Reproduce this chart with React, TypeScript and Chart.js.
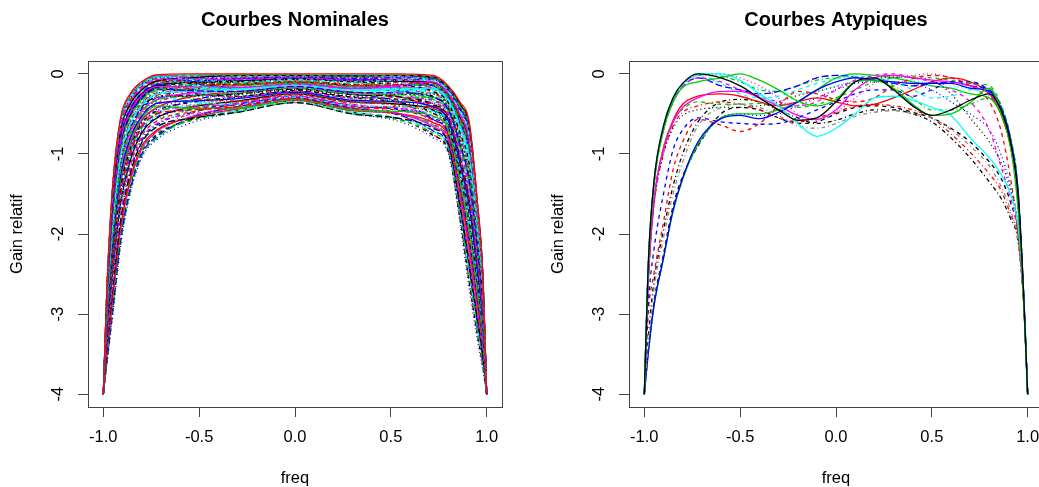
import { useEffect, useRef } from "react";
import { Chart, registerables } from "chart.js";
Chart.register(...registerables);

// ---------- data ----------
const X_TICKS = [-1, -0.5, 0, 0.5, 1];
const Y_TICKS = [0, -1, -2, -3, -4];

const FREQ_NOM = [-1, -0.98, -0.95, -0.91, -0.86, -0.8, -0.72, -0.55, -0.3, 0, 0.3, 0.55, 0.72, 0.8, 0.86, 0.91, 0.95, 0.98, 1];

const N01 = [-4,-2.6,-1.35,-0.55,-0.25,-0.1,-0.01,0,0,0,0,0,-0.02,-0.15,-0.35,-0.62,-1.55,-2.5,-4];
const N02 = [-4,-2.62,-1.38,-0.58,-0.28,-0.12,-0.03,-0.02,-0.02,-0.02,-0.03,-0.02,-0.04,-0.18,-0.4,-0.68,-1.6,-2.54,-4];
const N03 = [-4,-2.65,-1.43,-0.63,-0.31,-0.15,-0.05,-0.05,-0.05,-0.04,-0.05,-0.04,-0.05,-0.18,-0.41,-0.7,-1.62,-2.55,-4];
const N04 = [-4,-2.63,-1.4,-0.6,-0.29,-0.13,-0.03,-0.07,-0.1,-0.07,-0.1,-0.08,-0.08,-0.22,-0.47,-0.79,-1.69,-2.6,-4];
const N05 = [-4,-2.68,-1.48,-0.68,-0.35,-0.18,-0.07,-0.07,-0.07,-0.05,-0.08,-0.08,-0.1,-0.24,-0.5,-0.83,-1.73,-2.62,-4];
const N06 = [-4,-2.7,-1.52,-0.71,-0.38,-0.2,-0.09,-0.05,-0.02,-0.02,-0.03,-0.02,-0.04,-0.17,-0.38,-0.66,-1.59,-2.52,-4];
const N07 = [-4,-2.66,-1.45,-0.65,-0.33,-0.16,-0.06,-0.11,-0.14,-0.11,-0.15,-0.13,-0.11,-0.25,-0.53,-0.87,-1.76,-2.64,-4];
const N08 = [-4,-2.72,-1.55,-0.74,-0.4,-0.21,-0.11,-0.11,-0.12,-0.09,-0.13,-0.12,-0.14,-0.28,-0.58,-0.93,-1.81,-2.68,-4];
const N09 = [-4,-2.75,-1.6,-0.79,-0.44,-0.24,-0.13,-0.08,-0.06,-0.04,-0.06,-0.05,-0.07,-0.2,-0.44,-0.75,-1.66,-2.57,-4];
const N10 = [-4,-2.64,-1.42,-0.61,-0.3,-0.14,-0.04,-0.14,-0.19,-0.14,-0.2,-0.18,-0.18,-0.32,-0.65,-1.04,-1.9,-2.74,-4];
const N11 = [-4,-2.78,-1.65,-0.84,-0.48,-0.27,-0.16,-0.16,-0.17,-0.13,-0.18,-0.14,-0.1,-0.24,-0.5,-0.83,-1.73,-2.62,-4];
const N12 = [-4,-2.8,-1.68,-0.87,-0.5,-0.29,-0.17,-0.12,-0.1,-0.07,-0.1,-0.14,-0.22,-0.36,-0.73,-1.14,-1.99,-2.8,-4];
const N13 = [-4,-2.7,-1.52,-0.71,-0.38,-0.2,-0.09,-0.19,-0.24,-0.18,-0.25,-0.24,-0.25,-0.41,-0.8,-1.24,-2.08,-2.86,-4];
const N14 = [-4,-2.85,-1.76,-0.95,-0.56,-0.34,-0.21,-0.17,-0.14,-0.11,-0.15,-0.14,-0.16,-0.3,-0.62,-0.99,-1.87,-2.72,-4];
const N15 = [-4,-2.82,-1.71,-0.9,-0.53,-0.31,-0.19,-0.21,-0.22,-0.16,-0.23,-0.24,-0.29,-0.45,-0.88,-1.35,-2.16,-2.92,-4];
const N16 = [-4,-2.9,-1.85,-1.03,-0.63,-0.39,-0.25,-0.22,-0.19,-0.14,-0.2,-0.19,-0.19,-0.34,-0.68,-1.08,-1.94,-2.76,-4];
const N17 = [-4,-2.74,-1.58,-0.77,-0.43,-0.23,-0.12,-0.23,-0.29,-0.22,-0.3,-0.3,-0.33,-0.49,-0.95,-1.45,-2.25,-2.98,-4];
const N18 = [-4,-2.95,-1.93,-1.11,-0.69,-0.43,-0.29,-0.28,-0.26,-0.2,-0.28,-0.26,-0.25,-0.41,-0.8,-1.24,-2.08,-2.86,-4];
const N19 = [-4,-2.88,-1.81,-1.0,-0.6,-0.37,-0.24,-0.3,-0.34,-0.25,-0.35,-0.35,-0.37,-0.53,-1.03,-1.56,-2.34,-3.04,-4];
const N20 = [-4,-3.0,-2.01,-1.19,-0.75,-0.48,-0.33,-0.28,-0.24,-0.18,-0.25,-0.26,-0.32,-0.47,-0.92,-1.41,-2.22,-2.96,-4];
const N21 = [-4,-3.05,-2.09,-1.27,-0.81,-0.53,-0.37,-0.34,-0.31,-0.23,-0.33,-0.35,-0.41,-0.58,-1.1,-1.66,-2.43,-3.1,-4];
const N22 = [-4,-2.93,-1.89,-1.08,-0.66,-0.41,-0.28,-0.35,-0.38,-0.29,-0.4,-0.41,-0.45,-0.62,-1.18,-1.76,-2.51,-3.16,-4];
const N23 = [-4,-3.1,-2.18,-1.35,-0.88,-0.58,-0.42,-0.39,-0.36,-0.27,-0.38,-0.35,-0.35,-0.51,-0.98,-1.49,-2.29,-3.0,-4];
const N24 = [-4,-3.15,-2.26,-1.43,-0.94,-0.62,-0.46,-0.36,-0.29,-0.22,-0.3,-0.36,-0.49,-0.66,-1.25,-1.87,-2.6,-3.22,-4];
const N25 = [-4,-3.2,-2.34,-1.51,-1.0,-0.67,-0.5,-0.45,-0.41,-0.31,-0.43,-0.41,-0.41,-0.58,-1.1,-1.66,-2.43,-3.1,-4];
const N26 = [-4,-3.08,-2.14,-1.32,-0.85,-0.56,-0.4,-0.43,-0.43,-0.32,-0.45,-0.47,-0.53,-0.7,-1.33,-1.97,-2.69,-3.28,-4];
const N27 = [-4,-3.25,-2.42,-1.59,-1.06,-0.72,-0.54,-0.45,-0.38,-0.29,-0.4,-0.45,-0.57,-0.75,-1.4,-2.08,-2.78,-3.34,-4];
const N28 = [-4,-3.3,-2.51,-1.67,-1.13,-0.77,-0.58,-0.51,-0.46,-0.34,-0.48,-0.47,-0.49,-0.66,-1.25,-1.87,-2.6,-3.22,-4];
const N29 = [-4,-3.35,-2.59,-1.75,-1.19,-0.81,-0.62,-0.51,-0.43,-0.32,-0.45,-0.5,-0.63,-0.81,-1.52,-2.24,-2.92,-3.44,-4];
const N30 = [-4,-3.4,-2.67,-1.83,-1.25,-0.86,-0.66,-0.56,-0.48,-0.36,-0.5,-0.56,-0.68,-0.87,-1.63,-2.39,-3.04,-3.52,-4];
const N31 = [-4,-3.45,-2.75,-1.91,-1.31,-0.91,-0.7,-0.55,-0.44,-0.33,-0.46,-0.5,-0.61,-0.79,-1.48,-2.18,-2.86,-3.4,-4];
const N32 = [-4,-3.5,-2.84,-1.99,-1.38,-0.96,-0.74,-0.59,-0.48,-0.36,-0.5,-0.58,-0.74,-0.93,-1.73,-2.53,-3.16,-3.6,-4];
const N33 = [-4,-3.6,-3.0,-2.15,-1.5,-1.05,-0.82,-0.62,-0.48,-0.36,-0.5,-0.6,-0.8,-1.0,-1.85,-2.7,-3.3,-3.7,-4];
const N34 = [-4,-2.67,-1.47,-0.66,-0.34,-0.17,-0.07,-0.05,-0.04,-0.03,-0.04,-0.05,-0.07,-0.21,-0.46,-0.77,-1.67,-2.58,-4];
const N35 = [-4,-2.61,-1.37,-0.57,-0.26,-0.11,-0.02,-0.04,-0.06,-0.04,-0.06,-0.04,-0.03,-0.16,-0.37,-0.64,-1.57,-2.51,-4];
const N36 = [-4,-2.76,-1.61,-0.81,-0.45,-0.25,-0.14,-0.11,-0.09,-0.06,-0.09,-0.09,-0.11,-0.25,-0.53,-0.87,-1.76,-2.64,-4];
const N37 = [-4,-2.69,-1.5,-0.69,-0.36,-0.19,-0.08,-0.11,-0.13,-0.1,-0.14,-0.1,-0.06,-0.19,-0.43,-0.72,-1.64,-2.56,-4];
const N38 = [-4,-2.84,-1.75,-0.93,-0.55,-0.33,-0.2,-0.14,-0.11,-0.08,-0.11,-0.16,-0.25,-0.41,-0.8,-1.24,-2.08,-2.86,-4];
const N39 = [-4,-2.62,-1.38,-0.58,-0.28,-0.12,-0.03,-0.11,-0.17,-0.13,-0.18,-0.15,-0.14,-0.29,-0.59,-0.95,-1.83,-2.69,-4];
const N40 = [-4,-2.73,-1.56,-0.76,-0.41,-0.22,-0.12,-0.17,-0.2,-0.15,-0.21,-0.21,-0.24,-0.39,-0.77,-1.2,-2.04,-2.84,-4];
const N41 = [-4,-2.98,-1.98,-1.16,-0.73,-0.46,-0.32,-0.24,-0.18,-0.14,-0.19,-0.17,-0.18,-0.32,-0.65,-1.04,-1.9,-2.74,-4];
const N42 = [-4,-2.8,-1.68,-0.87,-0.5,-0.29,-0.17,-0.24,-0.28,-0.21,-0.29,-0.32,-0.39,-0.56,-1.07,-1.62,-2.39,-3.08,-4];
const N43 = [-4,-3.02,-2.04,-1.22,-0.78,-0.5,-0.35,-0.35,-0.34,-0.25,-0.35,-0.4,-0.5,-0.68,-1.28,-1.91,-2.64,-3.24,-4];
const N44 = [-4,-3.18,-2.31,-1.48,-0.98,-0.65,-0.48,-0.4,-0.35,-0.26,-0.36,-0.32,-0.29,-0.45,-0.88,-1.35,-2.16,-2.92,-4];
const N45 = [-4,-3.55,-2.92,-2.07,-1.44,-1.0,-0.78,-0.56,-0.41,-0.31,-0.43,-0.52,-0.71,-0.9,-1.67,-2.45,-3.09,-3.56,-4];
const N46 = [-4,-2.65,-1.43,-0.63,-0.31,-0.15,-0.05,-0.02,-0.01,-0.01,-0.01,-0.04,-0.1,-0.24,-0.5,-0.83,-1.73,-2.62,-4];
const N47 = [-4,-2.71,-1.53,-0.73,-0.39,-0.2,-0.1,-0.06,-0.03,-0.03,-0.04,-0.08,-0.18,-0.32,-0.65,-1.04,-1.9,-2.74,-4];
const N48 = [-4,-2.9,-1.85,-1.03,-0.63,-0.39,-0.25,-0.14,-0.07,-0.05,-0.08,-0.07,-0.08,-0.22,-0.47,-0.79,-1.69,-2.6,-4];
const N49 = [-4,-2.64,-1.42,-0.61,-0.3,-0.14,-0.04,-0.03,-0.03,-0.02,-0.03,-0.06,-0.14,-0.28,-0.58,-0.93,-1.81,-2.68,-4];
const N50 = [-4,-2.73,-1.56,-0.76,-0.41,-0.22,-0.12,-0.07,-0.05,-0.04,-0.05,-0.04,-0.05,-0.18,-0.41,-0.7,-1.62,-2.55,-4];
const N51 = [-4,-2.79,-1.66,-0.85,-0.49,-0.28,-0.16,-0.1,-0.06,-0.05,-0.07,-0.09,-0.15,-0.29,-0.61,-0.97,-1.85,-2.7,-4];
const N52 = [-4,-2.68,-1.48,-0.68,-0.35,-0.18,-0.07,-0.09,-0.11,-0.08,-0.11,-0.14,-0.22,-0.37,-0.74,-1.16,-2.0,-2.81,-4];
const N53 = [-4,-2.86,-1.78,-0.97,-0.58,-0.35,-0.22,-0.13,-0.08,-0.06,-0.08,-0.08,-0.1,-0.24,-0.5,-0.83,-1.73,-2.62,-4];
const N54 = [-4,-2.77,-1.63,-0.82,-0.46,-0.26,-0.15,-0.14,-0.13,-0.1,-0.14,-0.18,-0.28,-0.43,-0.85,-1.31,-2.13,-2.9,-4];
const N55 = [-4,-2.92,-1.88,-1.06,-0.65,-0.4,-0.27,-0.18,-0.12,-0.09,-0.13,-0.16,-0.23,-0.38,-0.76,-1.18,-2.02,-2.82,-4];
const N56 = [-4,-2.81,-1.7,-0.89,-0.51,-0.3,-0.18,-0.16,-0.15,-0.12,-0.16,-0.14,-0.13,-0.27,-0.56,-0.91,-1.8,-2.67,-4];
const N57 = [-4,-2.96,-1.94,-1.13,-0.7,-0.44,-0.3,-0.2,-0.14,-0.11,-0.15,-0.21,-0.33,-0.49,-0.95,-1.45,-2.25,-2.98,-4];
const N58 = [-4,-2.87,-1.8,-0.98,-0.59,-0.36,-0.23,-0.23,-0.23,-0.17,-0.24,-0.22,-0.21,-0.35,-0.71,-1.12,-1.97,-2.79,-4];
const N59 = [-4,-3.03,-2.06,-1.24,-0.79,-0.51,-0.36,-0.26,-0.19,-0.14,-0.2,-0.21,-0.25,-0.41,-0.8,-1.24,-2.08,-2.86,-4];
const N60 = [-4,-2.94,-1.91,-1.09,-0.68,-0.42,-0.29,-0.27,-0.25,-0.19,-0.26,-0.29,-0.38,-0.54,-1.04,-1.58,-2.36,-3.05,-4];
const N61 = [-4,-3.1,-2.18,-1.35,-0.88,-0.58,-0.42,-0.29,-0.22,-0.16,-0.23,-0.29,-0.43,-0.59,-1.13,-1.7,-2.46,-3.12,-4];
const N62 = [-4,-3.06,-2.11,-1.29,-0.83,-0.54,-0.38,-0.33,-0.29,-0.22,-0.3,-0.29,-0.3,-0.46,-0.89,-1.37,-2.18,-2.93,-4];
const N63 = [-4,-3.13,-2.22,-1.4,-0.91,-0.6,-0.44,-0.33,-0.26,-0.2,-0.28,-0.34,-0.47,-0.64,-1.22,-1.83,-2.57,-3.2,-4];
const N64 = [-4,-3.22,-2.37,-1.54,-1.03,-0.69,-0.51,-0.39,-0.31,-0.23,-0.33,-0.33,-0.36,-0.52,-1.01,-1.54,-2.32,-3.03,-4];
const N65 = [-4,-3.17,-2.29,-1.46,-0.96,-0.64,-0.47,-0.42,-0.37,-0.28,-0.39,-0.43,-0.53,-0.71,-1.34,-1.99,-2.71,-3.29,-4];
const N66 = [-4,-3.27,-2.46,-1.62,-1.09,-0.74,-0.55,-0.42,-0.34,-0.25,-0.35,-0.38,-0.45,-0.62,-1.18,-1.76,-2.51,-3.16,-4];
const N67 = [-4,-3.32,-2.54,-1.7,-1.15,-0.78,-0.59,-0.48,-0.39,-0.3,-0.41,-0.46,-0.58,-0.76,-1.43,-2.12,-2.81,-3.36,-4];
const N68 = [-4,-3.23,-2.39,-1.56,-1.04,-0.7,-0.52,-0.47,-0.42,-0.32,-0.44,-0.5,-0.64,-0.83,-1.55,-2.28,-2.95,-3.46,-4];
const N69 = [-4,-3.38,-2.64,-1.8,-1.23,-0.84,-0.64,-0.49,-0.38,-0.29,-0.4,-0.44,-0.55,-0.73,-1.37,-2.03,-2.74,-3.32,-4];
const N70 = [-4,-3.42,-2.7,-1.86,-1.28,-0.88,-0.67,-0.55,-0.46,-0.34,-0.48,-0.56,-0.72,-0.92,-1.7,-2.49,-3.13,-3.58,-4];
const N71 = [-4,-3.48,-2.8,-1.96,-1.35,-0.94,-0.72,-0.54,-0.41,-0.31,-0.43,-0.5,-0.66,-0.85,-1.58,-2.33,-2.99,-3.48,-4];
const N72 = [-4,-3.53,-2.88,-2.04,-1.41,-0.98,-0.76,-0.58,-0.46,-0.34,-0.48,-0.57,-0.77,-0.97,-1.79,-2.62,-3.23,-3.65,-4];
const N73 = [-4,-3.3,-2.51,-1.67,-1.13,-0.77,-0.58,-0.41,-0.3,-0.22,-0.31,-0.41,-0.6,-0.78,-1.46,-2.16,-2.85,-3.39,-4];
const N74 = [-4,-3.36,-2.6,-1.77,-1.2,-0.82,-0.63,-0.45,-0.34,-0.25,-0.35,-0.4,-0.5,-0.68,-1.28,-1.91,-2.64,-3.24,-4];
const N75 = [-4,-3.2,-2.34,-1.51,-1.0,-0.67,-0.5,-0.34,-0.24,-0.18,-0.25,-0.36,-0.57,-0.75,-1.4,-2.08,-2.78,-3.34,-4];
const N76 = [-4,-3.12,-2.21,-1.38,-0.9,-0.59,-0.43,-0.28,-0.18,-0.14,-0.19,-0.28,-0.46,-0.63,-1.19,-1.79,-2.53,-3.17,-4];
const N77 = [-4,-3.04,-2.08,-1.25,-0.8,-0.52,-0.37,-0.23,-0.14,-0.11,-0.15,-0.24,-0.41,-0.58,-1.1,-1.66,-2.43,-3.1,-4];
const N78 = [-4,-3.0,-2.01,-1.19,-0.75,-0.48,-0.33,-0.19,-0.1,-0.07,-0.1,-0.2,-0.37,-0.53,-1.03,-1.56,-2.34,-3.04,-4];
const N79 = [-4,-3.46,-2.77,-1.93,-1.33,-0.92,-0.71,-0.5,-0.36,-0.27,-0.38,-0.51,-0.76,-0.96,-1.78,-2.6,-3.21,-3.64,-4];
const N80 = [-4,-3.58,-2.97,-2.12,-1.48,-1.03,-0.8,-0.58,-0.43,-0.32,-0.45,-0.51,-0.64,-0.83,-1.55,-2.28,-2.95,-3.46,-4];
const N81 = [-4,-2.63,-1.4,-0.6,-0.29,-0.13,-0.03,-0.02,-0.01,-0.01,-0.02,-0.02,-0.06,-0.19,-0.43,-0.72,-1.64,-2.56,-4];
const N82 = [-4,-2.66,-1.45,-0.65,-0.33,-0.16,-0.06,-0.03,-0.02,-0.01,-0.02,-0.02,-0.03,-0.16,-0.37,-0.64,-1.57,-2.51,-4];
const N83 = [-4,-2.61,-1.37,-0.57,-0.26,-0.11,-0.02,-0.03,-0.04,-0.03,-0.05,-0.05,-0.09,-0.23,-0.49,-0.81,-1.71,-2.61,-4];
const N84 = [-4,-2.7,-1.52,-0.71,-0.38,-0.2,-0.09,-0.08,-0.08,-0.06,-0.08,-0.07,-0.07,-0.21,-0.46,-0.77,-1.67,-2.58,-4];
const N85 = [-4,-2.75,-1.6,-0.79,-0.44,-0.24,-0.13,-0.07,-0.04,-0.03,-0.04,-0.09,-0.19,-0.34,-0.68,-1.08,-1.94,-2.76,-4];
const N86 = [-4,-2.83,-1.73,-0.92,-0.54,-0.32,-0.2,-0.19,-0.18,-0.14,-0.19,-0.22,-0.29,-0.44,-0.86,-1.33,-2.15,-2.91,-4];
const N87 = [-4,-2.89,-1.83,-1.01,-0.61,-0.38,-0.24,-0.15,-0.1,-0.07,-0.1,-0.1,-0.12,-0.26,-0.55,-0.89,-1.78,-2.66,-4];
const N88 = [-4,-2.97,-1.96,-1.14,-0.71,-0.45,-0.31,-0.26,-0.22,-0.17,-0.23,-0.26,-0.35,-0.51,-0.98,-1.49,-2.29,-3.0,-4];

const NOMINAL = [
  N01,N02,N03,N04,N05,N06,N07,N08,N09,N10,N11,N12,N13,N14,N15,N16,N17,N18,N19,N20,N21,N22,
  N23,N24,N25,N26,N27,N28,N29,N30,N31,N32,N33,N34,N35,N36,N37,N38,N39,N40,N41,N42,N43,N44,
  N45,N46,N47,N48,N49,N50,N51,N52,N53,N54,N55,N56,N57,N58,N59,N60,N61,N62,N63,N64,N65,N66,
  N67,N68,N69,N70,N71,N72,N73,N74,N75,N76,N77,N78,N79,N80,N81,N82,N83,N84,N85,N86,N87,N88,
];

const FREQ_ATY = [-1, -0.98, -0.95, -0.9, -0.85, -0.8, -0.72, -0.6, -0.5, -0.4, -0.3, -0.2, -0.1, 0, 0.1, 0.2, 0.3, 0.4, 0.5, 0.6, 0.7, 0.8, 0.86, 0.91, 0.95, 0.98, 1];

const A01 = [-4,-2.4,-1.35,-0.65,-0.3,-0.12,0,-0.05,-0.15,-0.3,-0.45,-0.58,-0.55,-0.35,-0.1,-0.05,-0.2,-0.4,-0.52,-0.45,-0.33,-0.25,-0.45,-0.85,-1.5,-2.8,-4];
const A02 = [-4,-2.45,-1.4,-0.7,-0.35,-0.17,-0.1,-0.05,0,-0.08,-0.2,-0.34,-0.4,-0.32,-0.1,-0.08,-0.18,-0.38,-0.52,-0.5,-0.36,-0.18,-0.45,-0.9,-1.7,-2.9,-4];
const A03 = [-4,-2.4,-1.35,-0.65,-0.3,-0.12,0,0,-0.08,-0.25,-0.4,-0.62,-0.78,-0.68,-0.5,-0.3,-0.28,-0.33,-0.42,-0.52,-0.8,-1.05,-1.25,-1.5,-1.9,-2.8,-4];
const A04 = [-4,-3.4,-2.7,-2.05,-1.5,-1.1,-0.65,-0.42,-0.38,-0.42,-0.52,-0.65,-0.68,-0.62,-0.53,-0.48,-0.46,-0.5,-0.55,-0.7,-0.9,-1.15,-1.4,-1.7,-2.1,-2.9,-4];
const A05 = [-4,-3.5,-2.9,-2.3,-1.7,-1.3,-0.85,-0.56,-0.52,-0.56,-0.48,-0.35,-0.2,-0.1,-0.05,-0.08,-0.1,-0.12,-0.12,-0.12,-0.18,-0.22,-0.42,-0.82,-1.5,-2.8,-4];
const A06 = [-4,-2.9,-2.2,-1.5,-0.95,-0.7,-0.55,-0.6,-0.62,-0.63,-0.62,-0.55,-0.45,-0.35,-0.25,-0.2,-0.2,-0.28,-0.2,-0.1,-0.1,-0.22,-0.45,-0.85,-1.55,-2.85,-4];
const A07 = [-4,-3.0,-2.5,-1.85,-1.2,-0.85,-0.57,-0.64,-0.72,-0.62,-0.4,-0.22,-0.25,-0.32,-0.35,-0.3,-0.15,-0.06,-0.02,-0.05,-0.15,-0.35,-0.7,-1.3,-2.0,-2.9,-4];
const A08 = [-4,-2.6,-1.6,-0.95,-0.6,-0.42,-0.3,-0.22,-0.22,-0.3,-0.4,-0.52,-0.57,-0.45,-0.2,-0.05,-0.02,-0.05,-0.08,-0.1,-0.15,-0.25,-0.45,-0.85,-1.5,-2.8,-4];
const A09 = [-4,-2.6,-1.65,-1.0,-0.68,-0.52,-0.45,-0.42,-0.42,-0.4,-0.35,-0.27,-0.22,-0.16,-0.1,-0.06,-0.04,-0.05,-0.08,-0.25,-0.55,-0.85,-1.1,-1.45,-1.9,-2.8,-4];
const A10 = [-4,-2.6,-1.6,-0.92,-0.6,-0.44,-0.35,-0.38,-0.38,-0.37,-0.38,-0.42,-0.38,-0.3,-0.2,-0.1,-0.05,-0.03,-0.05,-0.08,-0.12,-0.15,-0.38,-0.78,-1.45,-2.8,-4];
const A11 = [-4,-2.6,-1.65,-1.0,-0.65,-0.48,-0.4,-0.35,-0.38,-0.45,-0.55,-0.6,-0.55,-0.48,-0.4,-0.38,-0.4,-0.45,-0.55,-0.75,-0.98,-1.25,-1.45,-1.75,-2.05,-2.9,-4];
const A12 = [-4,-2.45,-1.4,-0.7,-0.35,-0.16,-0.05,-0.1,-0.2,-0.28,-0.35,-0.4,-0.35,-0.2,-0.08,-0.02,0,-0.05,-0.1,-0.2,-0.35,-0.7,-1.15,-1.55,-2.0,-2.9,-4];
const A13 = [-4,-2.4,-1.38,-0.68,-0.32,-0.14,-0.02,-0.12,-0.25,-0.3,-0.28,-0.2,-0.12,-0.06,-0.03,-0.05,-0.1,-0.2,-0.3,-0.28,-0.2,-0.22,-0.42,-0.82,-1.5,-2.8,-4];
const A14 = [-4,-2.45,-1.4,-0.7,-0.35,-0.16,-0.05,-0.15,-0.2,-0.25,-0.22,-0.15,-0.05,-0.02,-0.04,-0.08,-0.12,-0.15,-0.12,-0.1,-0.15,-0.2,-0.4,-0.8,-1.45,-2.8,-4];
const A15 = [-4,-3.5,-2.9,-2.3,-1.72,-1.32,-0.88,-0.55,-0.5,-0.5,-0.45,-0.35,-0.2,-0.05,0,-0.02,-0.05,-0.1,-0.15,-0.18,-0.25,-0.3,-0.5,-0.9,-1.6,-2.85,-4];
const A16 = [-4,-3.45,-2.85,-2.25,-1.65,-1.28,-0.9,-0.5,-0.42,-0.45,-0.55,-0.62,-0.6,-0.5,-0.42,-0.4,-0.42,-0.48,-0.55,-0.68,-0.85,-1.1,-1.3,-1.6,-2.0,-2.9,-4];
const A17 = [-4,-2.4,-1.36,-0.66,-0.31,-0.13,-0.02,0,-0.05,-0.15,-0.3,-0.5,-0.58,-0.48,-0.3,-0.12,-0.05,-0.02,0,-0.05,-0.12,-0.2,-0.4,-0.8,-1.45,-2.8,-4];
const A18 = [-4,-2.6,-1.6,-0.92,-0.58,-0.38,-0.28,-0.25,-0.28,-0.35,-0.4,-0.35,-0.3,-0.35,-0.4,-0.38,-0.3,-0.2,-0.1,-0.05,-0.1,-0.25,-0.5,-0.9,-1.6,-2.85,-4];
const A19 = [-4,-2.4,-1.36,-0.66,-0.31,-0.13,-0.02,-0.03,-0.1,-0.2,-0.22,-0.15,-0.08,-0.05,-0.05,-0.08,-0.15,-0.3,-0.45,-0.45,-0.38,-0.3,-0.5,-0.9,-1.55,-2.85,-4];
const A20 = [-4,-3.5,-2.9,-2.3,-1.7,-1.3,-0.9,-0.55,-0.5,-0.52,-0.5,-0.4,-0.3,-0.2,-0.12,-0.1,-0.1,-0.12,-0.2,-0.35,-0.5,-0.7,-1.0,-1.4,-1.9,-2.8,-4];
const A21 = [-4,-3.3,-2.6,-1.95,-1.4,-1.0,-0.6,-0.35,-0.32,-0.35,-0.45,-0.55,-0.62,-0.58,-0.5,-0.45,-0.45,-0.5,-0.6,-0.8,-1.05,-1.35,-1.55,-1.8,-2.1,-2.9,-4];
const A22 = [-4,-2.4,-1.35,-0.65,-0.3,-0.12,0,-0.02,-0.1,-0.18,-0.22,-0.25,-0.22,-0.15,-0.08,-0.05,-0.05,-0.08,-0.12,-0.15,-0.2,-0.28,-0.48,-0.9,-1.6,-2.85,-4];

const ATYPICAL = [A01,A02,A03,A04,A05,A06,A07,A08,A09,A10,A11,A12,A13,A14,A15,A16,A17,A18,A19,A20,A21,A22];

// ---------- styles ----------
const PALETTE = ["#000000", "#FF0000", "#00CD00", "#0000FF", "#00FFFF", "#FF00FF"];
const LTY: number[][] = [[], [4, 4], [1, 3], [1, 3, 4, 3], [7, 3]];
const NOM_COLORS = NOMINAL.map((_, i) => PALETTE[(i + 1) % 6]);
const NOM_DASH = NOMINAL.map((_, i) => LTY[i % 5]);
const ATY_COLORS = ["#000000","#00CD00","#00FFFF","#8C8C8C","#0000FF","#0000FF","#FF0000","#FF00FF","#000000","#00CD00","#FF0000","#FF00FF","#00FFFF","#0000FF","#00CD00","#000000","#FF00FF","#FF0000","#00CD00","#0000FF","#000000","#00FFFF"];
const ATY_DASH: number[][] = [[],[],[],[1,3,4,3],[],[4,4],[4,4],[],[1,3],[4,4],[1,3,4,3],[4,4],[4,4],[7,3],[],[4,4],[1,3],[],[1,3,4,3],[1,3],[1,3,4,3],[1,3]];

const AXIS = "#444444";
const FONT = "'Liberation Sans', Arial, Helvetica, sans-serif";
const LINE_W = 1.3;

const boxPlugin = {
  id: "rbox",
  afterDraw(chart: any) {
    const { ctx, chartArea: a } = chart;
    ctx.save();
    ctx.strokeStyle = AXIS;
    ctx.lineWidth = 1;
    ctx.strokeRect(Math.round(a.left) + 0.5, Math.round(a.top) + 0.5, Math.round(a.right - a.left), Math.round(a.bottom - a.top));
    ctx.restore();
  },
};

function Panel(props: { title: string; freq: number[]; curves: number[][]; colors: string[]; dashes: number[][]; left: number }) {
  const ref = useRef<HTMLCanvasElement>(null);
  useEffect(() => {
    const { title, freq, curves, colors, dashes } = props;
    const chart = new Chart(ref.current as HTMLCanvasElement, {
      type: "line",
      data: {
        datasets: curves.map((c, i) => ({
          data: freq.map((x, j) => ({ x, y: c[j] })),
          borderColor: colors[i],
          borderDash: dashes[i],
          borderWidth: LINE_W,
          pointRadius: 0,
          fill: false,
          cubicInterpolationMode: "monotone" as const,
        })),
      },
      options: {
        responsive: false,
        animation: false,
        events: [],
        font: { family: FONT },
        layout: { padding: { left: 0, right: 18, top: 0, bottom: 0 } },
        plugins: {
          legend: { display: false },
          tooltip: { enabled: false },
          title: {
            display: true,
            text: title,
            fullSize: false,
            color: "#000",
            font: { family: FONT, size: 20, weight: "bold", lineHeight: 1.2 },
            padding: { top: 8, bottom: 29 },
          },
        },
        scales: {
          x: {
            type: "linear",
            min: -1.08,
            max: 1.08,
            afterBuildTicks: (s: any) => { s.ticks = X_TICKS.map((value) => ({ value })); },
            afterFit: (s: any) => { s.height = 80; },
            grid: { drawOnChartArea: false, drawTicks: true, tickLength: 10, color: AXIS, lineWidth: 1 },
            border: { display: false },
            ticks: {
              color: "#000",
              font: { family: FONT, size: 16.5 },
              padding: 11,
              autoSkip: false,
              minRotation: 0,
              maxRotation: 0,
              callback: (v: any) => Number(v).toFixed(1),
            },
            title: { display: true, text: "freq", color: "#000", font: { family: FONT, size: 16.5, lineHeight: 1 }, padding: 0 },
          },
          y: {
            type: "linear",
            min: -4.16,
            max: 0.16,
            afterBuildTicks: (s: any) => { s.ticks = Y_TICKS.map((value) => ({ value })); },
            afterFit: (s: any) => { s.width = 88; },
            grid: { drawOnChartArea: false, drawTicks: true, tickLength: 10, color: AXIS, lineWidth: 1 },
            border: { display: false },
            ticks: {
              color: "#000",
              font: { family: FONT, size: 16.5 },
              padding: 12.6,
              autoSkip: false,
              minRotation: 90,
              maxRotation: 90,
              crossAlign: "center",
              callback: (v: any) => String(v),
            },
            title: { display: true, text: "Gain relatif", color: "#000", font: { family: FONT, size: 16.5 }, padding: { top: 8, bottom: 0 } },
          },
        },
      } as any,
      plugins: [boxPlugin],
    });
    return () => chart.destroy();
  }, []);
  return (
    <canvas
      ref={ref}
      width={520}
      height={487}
      style={{ position: "absolute", left: props.left, top: 0, width: 520, height: 487 }}
    />
  );
}

export default function App() {
  return (
    <div style={{ position: "absolute", left: 0, top: 0, width: 1039, height: 487, overflow: "hidden", background: "#fff" }}>
      <Panel title="Courbes Nominales" freq={FREQ_NOM} curves={NOMINAL} colors={NOM_COLORS} dashes={NOM_DASH} left={0} />
      <Panel title="Courbes Atypiques" freq={FREQ_ATY} curves={ATYPICAL} colors={ATY_COLORS} dashes={ATY_DASH} left={541} />
    </div>
  );
}
